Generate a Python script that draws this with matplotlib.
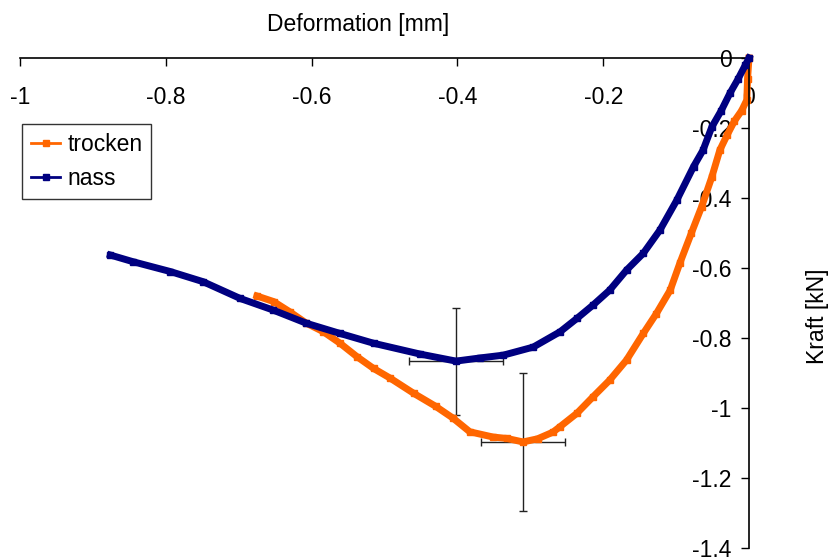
import numpy as np
import matplotlib
matplotlib.use('Agg')
import matplotlib.pyplot as plt

# trocken (dry) curve
trocken_x = [0, -0.002, -0.003, -0.01, -0.02, -0.03, -0.040, -0.051, -0.065, -0.079,
             -0.095, -0.108, -0.127, -0.145, -0.168, -0.191, -0.214, -0.236, -0.259,
             -0.269, -0.29, -0.310, -0.332, -0.351, -0.383, -0.406, -0.430, -0.460,
             -0.492, -0.515, -0.538, -0.561, -0.584, -0.607, -0.630, -0.652, -0.675]
trocken_y = [0, -0.06, -0.12, -0.15, -0.18, -0.22, -0.263, -0.34, -0.425, -0.50,
             -0.587, -0.663, -0.73, -0.787, -0.863, -0.92, -0.968, -1.015, -1.053,
             -1.069, -1.088, -1.097, -1.087, -1.083, -1.068, -1.029, -0.995, -0.958,
             -0.915, -0.887, -0.853, -0.815, -0.782, -0.758, -0.725, -0.696, -0.68]

# nass (wet) curve
nass_x = [0, -0.005, -0.015, -0.026, -0.038, -0.051, -0.063, -0.076, -0.099, -0.122,
          -0.145, -0.168, -0.191, -0.214, -0.236, -0.259, -0.296, -0.337, -0.369,
          -0.402, -0.451, -0.515, -0.561, -0.607, -0.653, -0.698, -0.749, -0.794,
          -0.845, -0.876]
nass_y = [0, -0.02, -0.06, -0.10, -0.15, -0.197, -0.263, -0.31, -0.406, -0.491,
          -0.558, -0.606, -0.663, -0.706, -0.744, -0.782, -0.826, -0.849, -0.857,
          -0.866, -0.846, -0.815, -0.787, -0.758, -0.72, -0.687, -0.639, -0.61,
          -0.582, -0.563]

# error bars at the minima
err_x = [-0.310, -0.402]
err_y = [-1.097, -0.866]
err_dx = [0.057, 0.065]
err_dy = [0.196, 0.153]

xticks = [-1, -0.8, -0.6, -0.4, -0.2, 0]
xtick_labels = ['-1', '-0.8', '-0.6', '-0.4', '-0.2', '0']
yticks = [0, -0.2, -0.4, -0.6, -0.8, -1, -1.2, -1.4]
ytick_labels = ['0', '-0.2', '-0.4', '-0.6', '-0.8', '-1', '-1.2', '-1.4']

orange = '#FF6600'
navy = '#000080'
fs = 16.5

plt.rcParams['font.family'] = ['Liberation Sans', 'DejaVu Sans']

fig = plt.figure(figsize=(8.29, 5.57), dpi=100)
ax = fig.add_axes([20 / 829, 9 / 557, 729 / 829, 490 / 557])

ax.errorbar(err_x, err_y, xerr=err_dx, yerr=err_dy, fmt='none', ecolor='#222222',
            elinewidth=1, capsize=3.2, capthick=1, zorder=1)
ax.plot(trocken_x, trocken_y, color=orange, lw=5, marker='s', ms=5,
        solid_joinstyle='round', label='trocken', clip_on=False, zorder=2)
ax.plot(nass_x, nass_y, color=navy, lw=5, marker='s', ms=5,
        solid_joinstyle='round', label='nass', clip_on=False, zorder=3)

ax.set_xlim(-1, 0)
ax.set_ylim(-1.4, 0)

ax.spines['right'].set_visible(False)
ax.spines['top'].set_visible(False)
ax.spines['left'].set_position(('data', 0))
ax.spines['bottom'].set_position(('data', 0))
for s in ['left', 'bottom']:
    ax.spines[s].set_linewidth(1.2)

ax.set_xticks(xticks)
ax.set_xticklabels(xtick_labels)
ax.set_yticks(yticks)
ax.set_yticklabels(ytick_labels)
ax.tick_params(axis='x', direction='out', length=5.5, width=1, pad=15, labelsize=fs)
ax.tick_params(axis='y', direction='out', length=5.5, width=1, pad=7, labelsize=fs)

ax.set_xlabel('Deformation [mm]', fontsize=fs)
ax.xaxis.set_label_position('top')
ax.xaxis.set_label_coords((358 - 20) / 729, (548 - 25) / 490)
ax.xaxis.label.set_va('center')

ax.set_ylabel('Kraft [kN]', fontsize=fs, rotation=90)
ax.yaxis.set_label_coords((818 - 20) / 729, (548 - 316) / 490)
ax.yaxis.label.set_va('center')
ax.yaxis.label.set_ha('center')

leg = ax.legend(loc='upper left', bbox_to_anchor=(22 / 829, 1 - 124 / 557),
                bbox_transform=fig.transFigure, fontsize=fs, frameon=True,
                fancybox=False, borderaxespad=0, borderpad=0.38, labelspacing=0.5,
                handlelength=1.3, handletextpad=0.3, numpoints=1)
leg.get_frame().set_edgecolor('black')
leg.get_frame().set_linewidth(1)
for line in leg.get_lines():
    line.set_linewidth(2)
    line.set_markersize(4)

fig.savefig('out.png', dpi=100)
